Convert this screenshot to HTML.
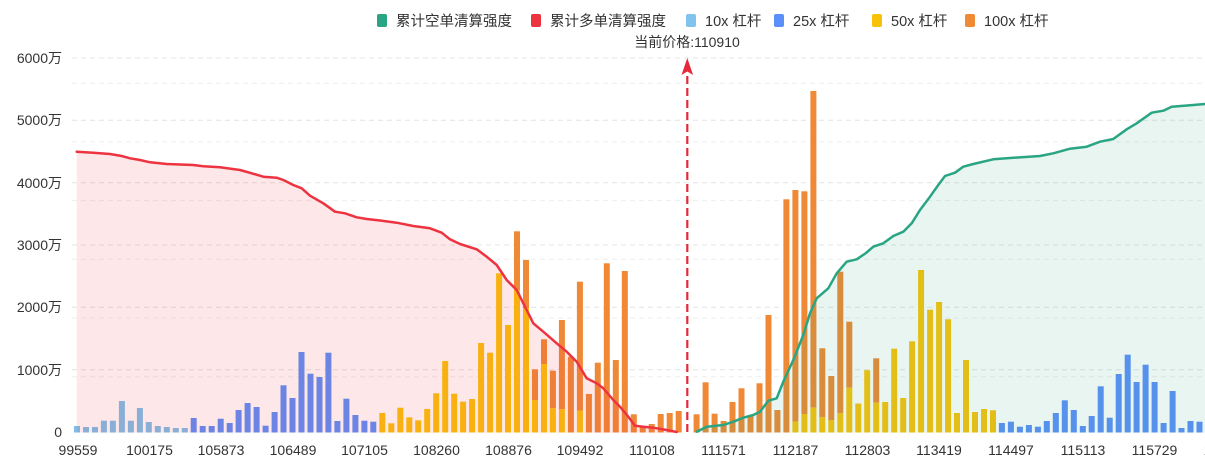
<!DOCTYPE html>
<html><head><meta charset="utf-8"><style>
html,body{margin:0;padding:0;background:#fff;}
svg{display:block;}
text{font-family:"Liberation Sans","Noto Sans CJK SC",sans-serif;fill:#333;}
.a{fill:#7cc0ea}.b{fill:#5b8ff9}.c{fill:#fac20a}.d{fill:#f08935}
.g1{stroke:#e4e4e4;stroke-width:1;stroke-dasharray:5 4;}
.g2{stroke:#eeeeee;stroke-width:1;stroke-dasharray:5 4;}
</style></head><body>
<svg width="1205" height="460" viewBox="0 0 1205 460" xmlns="http://www.w3.org/2000/svg">
<!-- legend -->
<g font-size="14.5">
<rect x="377" y="14" width="10" height="13" rx="2" fill="#2aa583"/><text x="396" y="26">累计空单清算强度</text>
<rect x="531" y="14" width="10" height="13" rx="2" fill="#ee3340"/><text x="550" y="26">累计多单清算强度</text>
<rect x="686" y="14" width="10" height="13" rx="2" fill="#80c3ec"/><text x="705" y="26">10x 杠杆</text>
<rect x="774" y="14" width="10" height="13" rx="2" fill="#5b8ff9"/><text x="793" y="26">25x 杠杆</text>
<rect x="872" y="14" width="10" height="13" rx="2" fill="#f8c20a"/><text x="891" y="26">50x 杠杆</text>
<rect x="965" y="14" width="10" height="13" rx="2" fill="#f08a35"/><text x="984" y="26">100x 杠杆</text>
</g>
<text x="687" y="47" font-size="14" text-anchor="middle">当前价格:110910</text>

<!-- grid -->
<g>
<line class="g1" x1="72" y1="58" x2="1205" y2="58"/>
<line class="g1" x1="72" y1="120.3" x2="1205" y2="120.3"/>
<line class="g1" x1="72" y1="182.7" x2="1205" y2="182.7"/>
<line class="g1" x1="72" y1="245" x2="1205" y2="245"/>
<line class="g1" x1="72" y1="307.3" x2="1205" y2="307.3"/>
<line class="g1" x1="72" y1="369.7" x2="1205" y2="369.7"/>
<line class="g2" x1="72" y1="83.2" x2="1205" y2="83.2"/>
<line class="g2" x1="72" y1="141.9" x2="1205" y2="141.9"/>
<line class="g2" x1="72" y1="200.6" x2="1205" y2="200.6"/>
<line class="g2" x1="72" y1="259.3" x2="1205" y2="259.3"/>
<line class="g2" x1="72" y1="318" x2="1205" y2="318"/>
<line class="g2" x1="72" y1="376.7" x2="1205" y2="376.7"/>
</g>

<!-- y labels -->
<g font-size="14" text-anchor="end">
<text x="62" y="63">6000万</text>
<text x="62" y="125">5000万</text>
<text x="62" y="188">4000万</text>
<text x="62" y="250">3000万</text>
<text x="62" y="312">2000万</text>
<text x="62" y="375">1000万</text>
<text x="62" y="437">0</text>
</g>

<!-- bars -->
<g>
<rect class="a" x="74" y="426" width="6" height="6.5"/>
<rect class="a" x="83" y="427" width="6" height="5.5"/>
<rect class="a" x="92" y="427" width="6" height="5.5"/>
<rect class="a" x="100.9" y="420.7" width="6" height="11.8"/>
<rect class="a" x="109.9" y="420.7" width="6" height="11.8"/>
<rect class="a" x="118.9" y="401" width="6" height="31.5"/>
<rect class="a" x="127.9" y="420.7" width="6" height="11.8"/>
<rect class="a" x="136.9" y="408" width="6" height="24.5"/>
<rect class="a" x="145.8" y="422" width="6" height="10.5"/>
<rect class="a" x="154.8" y="426" width="6" height="6.5"/>
<rect class="a" x="163.8" y="427" width="6" height="5.5"/>
<rect class="a" x="172.8" y="428" width="6" height="4.5"/>
<rect class="a" x="181.8" y="428" width="6" height="4.5"/>

<rect class="b" x="190.7" y="418" width="6" height="14.5"/>
<rect class="b" x="199.7" y="426" width="6" height="6.5"/>
<rect class="b" x="208.7" y="426" width="6" height="6.5"/>
<rect class="b" x="217.7" y="418.7" width="6" height="13.8"/>
<rect class="b" x="226.7" y="423" width="6" height="9.5"/>
<rect class="b" x="235.6" y="410" width="6" height="22.5"/>
<rect class="b" x="244.6" y="403" width="6" height="29.5"/>
<rect class="b" x="253.6" y="407" width="6" height="25.5"/>
<rect class="b" x="262.6" y="425.7" width="6" height="6.8"/>
<rect class="b" x="271.6" y="412" width="6" height="20.5"/>
<rect class="b" x="280.5" y="385.3" width="6" height="47.2"/>
<rect class="b" x="289.5" y="398" width="6" height="34.5"/>
<rect class="b" x="298.5" y="352" width="6" height="80.5"/>
<rect class="b" x="307.5" y="373.7" width="6" height="58.8"/>
<rect class="b" x="316.5" y="377" width="6" height="55.5"/>
<rect class="b" x="325.4" y="352.7" width="6" height="79.8"/>
<rect class="b" x="334.4" y="421" width="6" height="11.5"/>
<rect class="b" x="343.4" y="398.7" width="6" height="33.8"/>
<rect class="b" x="352.4" y="415" width="6" height="17.5"/>
<rect class="b" x="361.4" y="420.7" width="6" height="11.8"/>
<rect class="b" x="370.3" y="421.7" width="6" height="10.8"/>

<rect class="c" x="379.3" y="413" width="6" height="19.5"/>
<rect class="c" x="388.3" y="423.3" width="6" height="9.2"/>
<rect class="c" x="397.3" y="407.7" width="6" height="24.8"/>
<rect class="c" x="406.3" y="417.3" width="6" height="15.2"/>
<rect class="c" x="415.2" y="420.3" width="6" height="12.2"/>
<rect class="c" x="424.2" y="409" width="6" height="23.5"/>
<rect class="c" x="433.2" y="393.3" width="6" height="39.2"/>
<rect class="c" x="442.2" y="361" width="6" height="71.5"/>
<rect class="c" x="451.2" y="393.7" width="6" height="38.8"/>
<rect class="c" x="460.1" y="401.7" width="6" height="30.8"/>
<rect class="c" x="469.1" y="399" width="6" height="33.5"/>
<rect class="c" x="478.1" y="343" width="6" height="89.5"/>
<rect class="c" x="487.1" y="352.7" width="6" height="79.8"/>
<rect class="c" x="496.1" y="273.3" width="6" height="159.2"/>
<rect class="c" x="505" y="325" width="6" height="107.5"/>

<rect class="d" x="514" y="231.3" width="6" height="58.7"/><rect class="c" x="514" y="290" width="6" height="142.5"/>
<rect class="d" x="523" y="260" width="6" height="48"/><rect class="c" x="523" y="308" width="6" height="124.5"/>
<rect class="d" x="532" y="369.3" width="6" height="30.7"/><rect class="c" x="532" y="400" width="6" height="32.5"/>
<rect class="d" x="541" y="339.3" width="6" height="24.7"/><rect class="c" x="541" y="364" width="6" height="68.5"/>
<rect class="d" x="549.9" y="370.7" width="6" height="37.6"/><rect class="c" x="549.9" y="408.3" width="6" height="24.2"/>
<rect class="d" x="558.9" y="320" width="6" height="89.3"/><rect class="c" x="558.9" y="409.3" width="6" height="23.2"/>
<rect class="d" x="567.9" y="356.7" width="6" height="75.8"/>
<rect class="d" x="576.9" y="281.7" width="6" height="128.8"/><rect class="c" x="576.9" y="410.5" width="6" height="22"/>
<rect class="d" x="585.9" y="394" width="6" height="38.5"/>
<rect class="d" x="594.8" y="362.7" width="6" height="69.8"/>
<rect class="d" x="603.8" y="263.3" width="6" height="169.2"/>
<rect class="d" x="612.8" y="360" width="6" height="72.5"/>
<rect class="d" x="621.8" y="271" width="6" height="161.5"/>
<rect class="d" x="630.8" y="414.3" width="6" height="18.2"/>
<rect class="d" x="639.7" y="426.5" width="6" height="6"/>
<rect class="d" x="648.7" y="424" width="6" height="8.5"/>
<rect class="d" x="657.7" y="414" width="6" height="18.5"/>
<rect class="d" x="666.7" y="413" width="6" height="19.5"/>
<rect class="d" x="675.7" y="411" width="6" height="21.5"/>

<rect class="d" x="693.6" y="414.3" width="6" height="18.2"/>
<rect class="d" x="702.6" y="382.3" width="6" height="50.2"/>
<rect class="d" x="711.6" y="413.7" width="6" height="18.8"/>
<rect class="d" x="720.6" y="421" width="6" height="11.5"/>
<rect class="d" x="729.5" y="402" width="6" height="30.5"/>
<rect class="d" x="738.5" y="388.3" width="6" height="44.2"/>
<rect class="d" x="747.5" y="416.5" width="6" height="16"/>
<rect class="d" x="756.5" y="383.3" width="6" height="49.2"/>
<rect class="d" x="765.5" y="315" width="6" height="117.5"/>
<rect class="d" x="774.4" y="410" width="6" height="22.5"/>
<rect class="d" x="783.4" y="199.3" width="6" height="233.2"/>
<rect class="d" x="792.4" y="190" width="6" height="231.7"/><rect class="c" x="792.4" y="421.7" width="6" height="10.8"/>
<rect class="d" x="801.4" y="191.3" width="6" height="222.7"/><rect class="c" x="801.4" y="414" width="6" height="18.5"/>
<rect class="d" x="810.4" y="91" width="6" height="316.7"/><rect class="c" x="810.4" y="407.7" width="6" height="24.8"/>
<rect class="d" x="819.3" y="348.3" width="6" height="69"/><rect class="c" x="819.3" y="417.3" width="6" height="15.2"/>
<rect class="d" x="828.3" y="376" width="6" height="44"/><rect class="c" x="828.3" y="420" width="6" height="12.5"/>
<rect class="d" x="837.3" y="271.7" width="6" height="141.6"/><rect class="c" x="837.3" y="413.3" width="6" height="19.2"/>
<rect class="d" x="846.3" y="321.7" width="6" height="66"/><rect class="c" x="846.3" y="387.7" width="6" height="44.8"/>
<rect class="c" x="855.3" y="403.5" width="6" height="29"/>
<rect class="c" x="864.2" y="370.2" width="6" height="62.3"/>
<rect class="d" x="873.2" y="358.3" width="6" height="44.4"/><rect class="c" x="873.2" y="402.7" width="6" height="29.8"/>
<rect class="c" x="882.2" y="402" width="6" height="30.5"/>
<rect class="c" x="891.2" y="348.7" width="6" height="83.8"/>
<rect class="c" x="900.2" y="398" width="6" height="34.5"/>
<rect class="c" x="909.1" y="341.3" width="6" height="91.2"/>
<rect class="c" x="918.1" y="270" width="6" height="162.5"/>
<rect class="c" x="927.1" y="309.7" width="6" height="122.8"/>
<rect class="c" x="936.1" y="302" width="6" height="130.5"/>
<rect class="c" x="945.1" y="319.3" width="6" height="113.2"/>
<rect class="c" x="954" y="413" width="6" height="19.5"/>
<rect class="c" x="963" y="360" width="6" height="72.5"/>
<rect class="c" x="972" y="412" width="6" height="20.5"/>
<rect class="c" x="981" y="409" width="6" height="23.5"/>
<rect class="c" x="990" y="410.3" width="6" height="22.2"/>

<rect class="b" x="998.9" y="423" width="6" height="9.5"/>
<rect class="b" x="1007.9" y="421.7" width="6" height="10.8"/>
<rect class="b" x="1016.9" y="426.7" width="6" height="5.8"/>
<rect class="b" x="1025.9" y="425" width="6" height="7.5"/>
<rect class="b" x="1034.9" y="426.7" width="6" height="5.8"/>
<rect class="b" x="1043.8" y="421" width="6" height="11.5"/>
<rect class="b" x="1052.8" y="413" width="6" height="19.5"/>
<rect class="b" x="1061.8" y="400.3" width="6" height="32.2"/>
<rect class="b" x="1070.8" y="410" width="6" height="22.5"/>
<rect class="b" x="1079.8" y="426" width="6" height="6.5"/>
<rect class="b" x="1088.7" y="416" width="6" height="16.5"/>
<rect class="b" x="1097.7" y="386.3" width="6" height="46.2"/>
<rect class="b" x="1106.7" y="417.7" width="6" height="14.8"/>
<rect class="b" x="1115.7" y="374" width="6" height="58.5"/>
<rect class="b" x="1124.7" y="354.7" width="6" height="77.8"/>
<rect class="b" x="1133.6" y="382" width="6" height="50.5"/>
<rect class="b" x="1142.6" y="364.7" width="6" height="67.8"/>
<rect class="b" x="1151.6" y="382" width="6" height="50.5"/>
<rect class="b" x="1160.6" y="423" width="6" height="9.5"/>
<rect class="b" x="1169.6" y="391" width="6" height="41.5"/>
<rect class="b" x="1178.5" y="428" width="6" height="4.5"/>
<rect class="b" x="1187.5" y="421" width="6" height="11.5"/>
<rect class="b" x="1196.5" y="421.7" width="6" height="10.8"/>
</g>

<!-- areas -->
<polygon fill="#ef3a46" fill-opacity="0.12" points="76.7,151.7 93.3,152.7 110,154 121.7,156 130,158.3 140,160 150,162.3 166.7,164 193.3,165 203.3,166.3 220,167.3 240,170 251.7,173.3 263.3,176.7 276.7,177.7 283.3,180 293.3,185 301.7,188.3 310,195.7 323.3,203.3 335,211.7 345,213.3 356.7,217.3 366.7,219 380,220.5 396.7,222.7 413.3,226 430,228.3 441.7,232.7 450,239.3 460,244 476.7,249.3 486.7,256.7 496.7,265 506.7,280 516.7,290 525,306.7 533.3,323.3 543.3,331.7 556.7,343.3 566.7,351.7 576.7,361.7 586.7,378.3 596.7,383.3 603.3,388.3 613.3,400 620,406.7 628.3,416.7 635,425.7 643.3,426.7 653.3,427.7 666.7,430 676.7,432 676.7,432.5 76.7,432.5"/>
<polygon fill="#2aa583" fill-opacity="0.11" points="696.7,431.7 706.7,426.7 723.3,425 733.3,421.7 743.3,417.7 753.3,415 760,411.7 768.3,400.7 776.7,398.3 783.3,381.7 793.3,360 803.3,335 810,313.3 816.7,298.3 828.3,288.3 836.7,273.3 846.7,261.7 856.7,259.3 866,253 873.3,246.7 883.3,243.3 893.3,236 903.3,231.7 911.7,223.3 920,210 930,196.7 938.3,185 945,176 955,172.7 963.3,166.7 973.3,164 993.3,159.3 1010,158 1040,156 1053.3,153.3 1070,148.7 1086.7,146.7 1100,141.7 1113.3,139 1126.7,129.3 1136.7,123.3 1151.7,112.7 1163.3,110.7 1171.7,106.7 1193.3,105 1205,104 1215,103.5 1215,432.5 696.7,432.5"/>

<!-- lines -->
<polyline fill="none" stroke="#ee3340" stroke-width="2.5" stroke-linejoin="round" stroke-linecap="round" points="76.7,151.7 93.3,152.7 110,154 121.7,156 130,158.3 140,160 150,162.3 166.7,164 193.3,165 203.3,166.3 220,167.3 240,170 251.7,173.3 263.3,176.7 276.7,177.7 283.3,180 293.3,185 301.7,188.3 310,195.7 323.3,203.3 335,211.7 345,213.3 356.7,217.3 366.7,219 380,220.5 396.7,222.7 413.3,226 430,228.3 441.7,232.7 450,239.3 460,244 476.7,249.3 486.7,256.7 496.7,265 506.7,280 516.7,290 525,306.7 533.3,323.3 543.3,331.7 556.7,343.3 566.7,351.7 576.7,361.7 586.7,378.3 596.7,383.3 603.3,388.3 613.3,400 620,406.7 628.3,416.7 635,425.7 643.3,426.7 653.3,427.7 666.7,430 676.7,432"/>
<polyline fill="none" stroke="#2aa583" stroke-width="2.5" stroke-linejoin="round" stroke-linecap="round" points="696.7,431.7 706.7,426.7 723.3,425 733.3,421.7 743.3,417.7 753.3,415 760,411.7 768.3,400.7 776.7,398.3 783.3,381.7 793.3,360 803.3,335 810,313.3 816.7,298.3 828.3,288.3 836.7,273.3 846.7,261.7 856.7,259.3 866,253 873.3,246.7 883.3,243.3 893.3,236 903.3,231.7 911.7,223.3 920,210 930,196.7 938.3,185 945,176 955,172.7 963.3,166.7 973.3,164 993.3,159.3 1010,158 1040,156 1053.3,153.3 1070,148.7 1086.7,146.7 1100,141.7 1113.3,139 1126.7,129.3 1136.7,123.3 1151.7,112.7 1163.3,110.7 1171.7,106.7 1193.3,105 1205,104 1215,103.5"/>

<!-- current price line -->
<line x1="687.3" y1="432" x2="687.3" y2="72" stroke="#e5283b" stroke-width="2.2" stroke-dasharray="8 4"/>
<polygon points="687.3,58 681.5,75 687.3,71.5 693.1,75" fill="#e5283b"/>

<!-- x labels -->
<g font-size="14" text-anchor="middle">
<text x="78" y="455">99559</text>
<text x="149.5" y="455">100175</text>
<text x="221" y="455">105873</text>
<text x="293" y="455">106489</text>
<text x="364.5" y="455">107105</text>
<text x="436.5" y="455">108260</text>
<text x="508.5" y="455">108876</text>
<text x="580" y="455">109492</text>
<text x="652" y="455">110108</text>
<text x="723.5" y="455">111571</text>
<text x="795.5" y="455">112187</text>
<text x="867.5" y="455">112803</text>
<text x="939" y="455">113419</text>
<text x="1011" y="455">114497</text>
<text x="1083" y="455">115113</text>
<text x="1154.5" y="455">115729</text>
<text x="1226.5" y="455">116345</text>
</g>
</svg>
</body></html>
